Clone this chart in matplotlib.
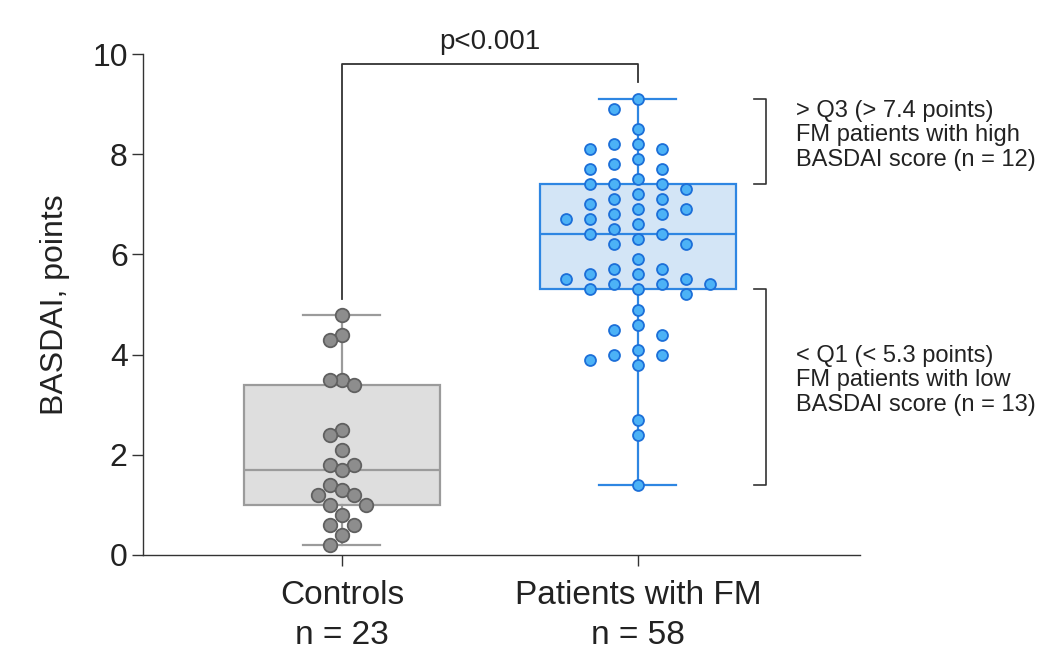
# BASDAI scores: controls vs patients with FM (box + scatter)

import numpy as np
import matplotlib
matplotlib.use("Agg")
import matplotlib.pyplot as plt

plt.rcParams['font.family'] = ['Liberation Sans', 'DejaVu Sans']

# data
groups = ["Controls", "Patients with FM"]
n_labels = ["n = 23", "n = 58"]
controls = [4.8, 4.4, 4.3, 3.5, 3.5, 3.4, 2.5, 2.4, 2.1, 1.8, 1.8, 1.7,
            1.4, 1.3, 1.2, 1.2, 1.0, 1.0, 0.8, 0.6, 0.6, 0.4, 0.2]
patients_fm = [9.1, 8.9, 8.5, 8.2, 8.2, 8.1, 8.1, 7.9, 7.8, 7.7, 7.7, 7.5,
               7.4, 7.4, 7.4, 7.3, 7.2, 7.1, 7.1, 7.0, 6.9, 6.9, 6.8, 6.8,
               6.7, 6.7, 6.6, 6.5, 6.4, 6.4, 6.3, 6.2, 6.2, 5.9, 5.7, 5.7,
               5.6, 5.6, 5.5, 5.5, 5.4, 5.4, 5.4, 5.3, 5.3, 5.2, 4.9, 4.6,
               4.5, 4.4, 4.1, 4.0, 4.0, 3.9, 3.8, 2.7, 2.4, 1.4]
p_text = "p<0.001"
high_text = "> Q3 (> 7.4 points)\nFM patients with high\nBASDAI score (n = 12)"
low_text = "< Q1 (< 5.3 points)\nFM patients with low\nBASDAI score (n = 13)"

box_face = ["#dedede", "#d3e5f6"]
box_edge = ["#9b9b9b", "#2e86e2"]
dot_face = ["#8d8d8d", "#4cb2f6"]
dot_edge = ["#606060", "#1c6fd8"]
dot_size = [95, 62]
slot_px = [12, 24]
gap_px = [20, 13]

fig = plt.figure(figsize=(10.45, 6.66), dpi=100)
ax = fig.add_axes([0.1368, 0.1667, 0.6862, 0.7522])
ax.set_xlim(0.328, 2.75)
ax.set_ylim(0, 10)

# pixel scale of the axes, used to spread the dots
bb = ax.get_window_extent()
px_x = bb.width / (2.75 - 0.328)
px_y = bb.height / 10.0


def swarm(vals, slot, gap):
    vals = np.asarray(vals, dtype=float)
    order = np.argsort(-vals, kind="stable")
    placed = []
    ks = np.zeros(len(vals))
    for i in order:
        y = vals[i] * px_y
        for k in [0, -1, 1, -2, 2, -3, 3, -4, 4, -5, 5]:
            if all(not (kk == k and abs(yy - y) < gap) for kk, yy in placed):
                break
        placed.append((k, y))
        ks[i] = k
    return ks * slot / px_x


datasets = [controls, patients_fm]
for i, vals in enumerate(datasets):
    pos = i + 1
    v = np.asarray(vals)
    q1, med, q3 = np.percentile(v, [25, 50, 75], method="weibull")
    stats = [dict(med=med, q1=q1, q3=q3, whislo=v.min(), whishi=v.max(), fliers=[])]
    ax.bxp(stats, positions=[pos], widths=0.66, capwidths=0.26, patch_artist=True,
           showfliers=False,
           boxprops=dict(facecolor=box_face[i], edgecolor=box_edge[i], linewidth=1.6),
           medianprops=dict(color=box_edge[i], linewidth=1.6),
           whiskerprops=dict(color=box_edge[i], linewidth=1.6),
           capprops=dict(color=box_edge[i], linewidth=1.6))
    xs = pos + swarm(v, slot_px[i], gap_px[i])
    ax.scatter(xs, v, s=dot_size[i], facecolor=dot_face[i], edgecolor=dot_edge[i],
               linewidth=1.3, zorder=5, clip_on=False)

# significance bracket
top = 9.8
ax.plot([1, 1, 2, 2], [max(controls) + 0.3, top, top, max(patients_fm) + 0.35],
        color="#333333", lw=1.3, clip_on=False)
ax.text(1.5, top + 0.18, p_text, ha="center", va="bottom", fontsize=20, color="#222222")

# quartile brackets on the right
fm = np.asarray(patients_fm)
fq1, fq3 = np.percentile(fm, [25, 75], method="weibull")
bx, bt = 2.432, 0.04
for lo, hi in [(fq3, fm.max()), (fm.min(), fq1)]:
    ax.plot([bx - bt, bx, bx, bx - bt], [hi, hi, lo, lo], color="#333333", lw=1.2, clip_on=False)
ax.text(2.535, 8.38, high_text, ha="left", va="center", fontsize=17, color="#222222",
        linespacing=1.15)
ax.text(2.535, 3.49, low_text, ha="left", va="center", fontsize=17, color="#222222",
        linespacing=1.15)

# axes styling
for s in ["top", "right"]:
    ax.spines[s].set_visible(False)
for s in ["left", "bottom"]:
    ax.spines[s].set_color("#333333")
    ax.spines[s].set_linewidth(1.0)
ax.set_yticks([0, 2, 4, 6, 8, 10])
ax.set_xticks([1, 2])
ax.set_xticklabels(groups, fontsize=24)
ax.tick_params(axis="both", colors="#333333", labelcolor="#222222", length=8, width=1.0)
ax.tick_params(axis="y", labelsize=23, pad=3)
ax.tick_params(axis="x", labelsize=24, pad=10)
ax.set_ylabel("BASDAI, points", fontsize=23, color="#222222", labelpad=16)
for pos, lab in zip([1, 2], n_labels):
    ax.text(pos, -1.6, lab, ha="center", va="center", fontsize=24, color="#222222")

fig.savefig("out.png", dpi=100)
